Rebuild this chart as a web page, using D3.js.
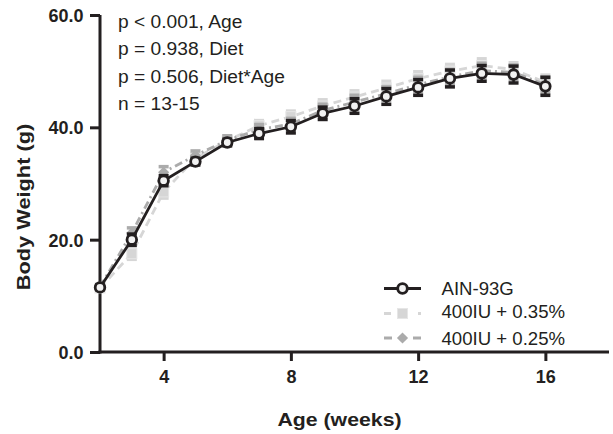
<!DOCTYPE html>
<html>
<head>
<meta charset="utf-8">
<script src="https://cdn.jsdelivr.net/npm/d3@7"></script>
<style>
  body { margin: 0; background: #fff; }
  svg { display: block; font-family: Arial, 'Liberation Sans', sans-serif; }
</style>
</head>
<body>
<script>
const weeks = [2, 3, 4, 5, 6, 7, 8, 9, 10, 11, 12, 13, 14, 15, 16]
const ain93g = [11.5, 20.0, 30.5, 33.9, 37.3, 38.9, 40.1, 42.5, 43.8, 45.5, 47.1, 48.7, 49.6, 49.4, 47.3]
const ain93gSem = [0.4, 1.0, 0.9, 0.6, 0.6, 0.9, 1.1, 1.1, 1.3, 1.4, 1.4, 1.5, 1.4, 1.5, 1.6]
const iu035 = [11.4, 17.5, 28.5, 34.5, 37.6, 40.3, 41.9, 43.8, 45.4, 47.0, 48.7, 50.0, 51.0, 50.3, 48.0]
const iu035Sem = [0.4, 1.0, 1.1, 0.8, 0.8, 0.9, 1.0, 1.1, 1.1, 1.2, 1.2, 1.2, 1.2, 1.2, 1.3]
const iu025 = [11.6, 21.2, 32.0, 35.0, 37.7, 39.6, 40.6, 43.0, 44.5, 46.0, 47.6, 49.0, 50.1, 49.8, 47.6]
const iu025Sem = [0.4, 0.9, 1.0, 0.8, 0.8, 0.9, 1.0, 1.1, 1.2, 1.2, 1.3, 1.3, 1.3, 1.3, 1.4]

const yTicks = [0, 20, 40, 60]
const xTicks = [4, 8, 12, 16]
const statsLines = ['p < 0.001, Age', 'p = 0.938, Diet', 'p = 0.506, Diet*Age', 'n = 13-15']

const SERIES = [
  { name: '400IU + 0.35%', values: iu035, sem: iu035Sem, color: '#d6d6d6', dash: '8 5', shape: 'square' },
  { name: '400IU + 0.25%', values: iu025, sem: iu025Sem, color: '#ababab', dash: '8 4 2 4', shape: 'diamond' },
  { name: 'AIN-93G', values: ain93g, sem: ain93gSem, color: '#231f20', dash: null, shape: 'circle' },
]
const LEGEND_ORDER = ['AIN-93G', '400IU + 0.35%', '400IU + 0.25%']

const W = 613, H = 434
const margin = { top: 15, right: 4, bottom: 82, left: 100 }
const INK = '#231f20'

const svg = d3.select('body').append('svg')
  .attr('width', W)
  .attr('height', H)

const x = d3.scaleLinear().domain([2, 18]).range([margin.left, W - margin.right])
const y = d3.scaleLinear().domain([0, 60]).range([H - margin.bottom, margin.top])

// Axes
const yAxis = svg.append('g')
  .attr('transform', `translate(${margin.left},0)`)
  .call(d3.axisLeft(y).tickValues(yTicks).tickFormat(d3.format('.1f')).tickSize(10).tickSizeOuter(0).tickPadding(6.5))
const xAxis = svg.append('g')
  .attr('transform', `translate(0,${H - margin.bottom})`)
  .call(d3.axisBottom(x).tickValues(xTicks).tickFormat(d3.format('d')).tickSize(9).tickSizeOuter(0).tickPadding(9))

for (const ax of [yAxis, xAxis]) {
  ax.select('.domain').attr('stroke', INK).attr('stroke-width', 3)
  ax.selectAll('.tick line').attr('stroke', INK).attr('stroke-width', 3)
  ax.selectAll('.tick text')
    .attr('fill', INK)
    .attr('font-size', 18)
    .attr('font-weight', 'bold')
    .attr('font-family', 'Arial, Liberation Sans, sans-serif')
}
yAxis.selectAll('.tick text').attr('dy', '0.36em')
xAxis.selectAll('.tick text').attr('dy', '0.72em')
// y axis line runs down to meet the x axis
yAxis.select('.domain').attr('d', `M0,${y(60)}V${y(0) + 1.5}`)
xAxis.select('.domain').attr('d', `M${x(2) - 1.5},0H${x(18)}`)

// Axis titles (the original type is slightly wider than Arial Bold)
svg.append('text')
  .attr('transform', `translate(${(x(2) + x(18)) / 2 - 15},426) scale(1.15,1)`)
  .attr('text-anchor', 'middle')
  .attr('font-size', 18.5)
  .attr('font-weight', 'bold')
  .attr('fill', INK)
  .text('Age (weeks)')

svg.append('text')
  .attr('transform', `translate(29.5,207) rotate(-90) scale(1.21,1)`)
  .attr('text-anchor', 'middle')
  .attr('font-size', 18)
  .attr('font-weight', 'bold')
  .attr('fill', INK)
  .text('Body Weight (g)')

// Markers
function drawMarker(g, s, cx, cy) {
  if (s.shape === 'circle') {
    g.append('circle').attr('cx', cx).attr('cy', cy).attr('r', 4.8)
      .attr('fill', '#f2f2f2').attr('stroke', s.color).attr('stroke-width', 2.8)
  } else if (s.shape === 'square') {
    g.append('rect').attr('x', cx - 5).attr('y', cy - 5).attr('width', 10).attr('height', 10)
      .attr('fill', s.color).attr('stroke', '#e6e6e6').attr('stroke-width', 1)
  } else {
    g.append('path').attr('transform', `translate(${cx},${cy})`)
      .attr('d', d3.symbol(d3.symbolDiamond2, 80)())
      .attr('fill', s.color)
  }
}

const line = d3.line().x(d => x(d[0])).y(d => y(d[1]))

for (const s of SERIES) {
  const g = svg.append('g')
  const pts = weeks.map((w, i) => [w, s.values[i], s.sem[i]])

  // error bars
  const eb = g.selectAll('g.eb').data(pts).enter().append('g')
  eb.append('line')
    .attr('x1', d => x(d[0])).attr('x2', d => x(d[0]))
    .attr('y1', d => y(d[1] - d[2])).attr('y2', d => y(d[1] + d[2]))
    .attr('stroke', s.color).attr('stroke-width', 2.5)
  for (const sign of [-1, 1]) {
    eb.append('line')
      .attr('x1', d => x(d[0]) - 5).attr('x2', d => x(d[0]) + 5)
      .attr('y1', d => y(d[1] + sign * d[2])).attr('y2', d => y(d[1] + sign * d[2]))
      .attr('stroke', s.color).attr('stroke-width', 3.5)
  }

  g.append('path')
    .datum(pts)
    .attr('fill', 'none')
    .attr('stroke', s.color)
    .attr('stroke-width', 2.8)
    .attr('stroke-dasharray', s.dash)
    .attr('d', line)

  pts.forEach(d => drawMarker(g, s, x(d[0]), y(d[1])))
}

// Stats annotation
const stats = svg.append('g')
statsLines.forEach((t, i) => {
  stats.append('text')
    .attr('x', 118)
    .attr('y', 27.5 + i * 27.6)
    .attr('font-size', 19.2)
    .attr('fill', INK)
    .text(t)
})

// Legend
const legendSymbolY = [288.5, 313.5, 338]
const legendTextY = [294.5, 317.5, 344.5]
const legend = svg.append('g')
LEGEND_ORDER.forEach((name, i) => {
  const s = SERIES.find(d => d.name === name)
  const cy = legendSymbolY[i]
  legend.append('line')
    .attr('x1', 384).attr('x2', 421)
    .attr('y1', cy).attr('y2', cy)
    .attr('stroke', s.color).attr('stroke-width', 2.8)
    .attr('stroke-dasharray', s.dash ? (s.shape === 'square' ? '7 27 3' : '8 21 8') : null)
  drawMarker(legend, s, 402.5, cy)
  legend.append('text')
    .attr('x', 441.5)
    .attr('y', legendTextY[i])
    .attr('font-size', 18.6)
    .attr('fill', INK)
    .text(name)
})
</script>
</body>
</html>
